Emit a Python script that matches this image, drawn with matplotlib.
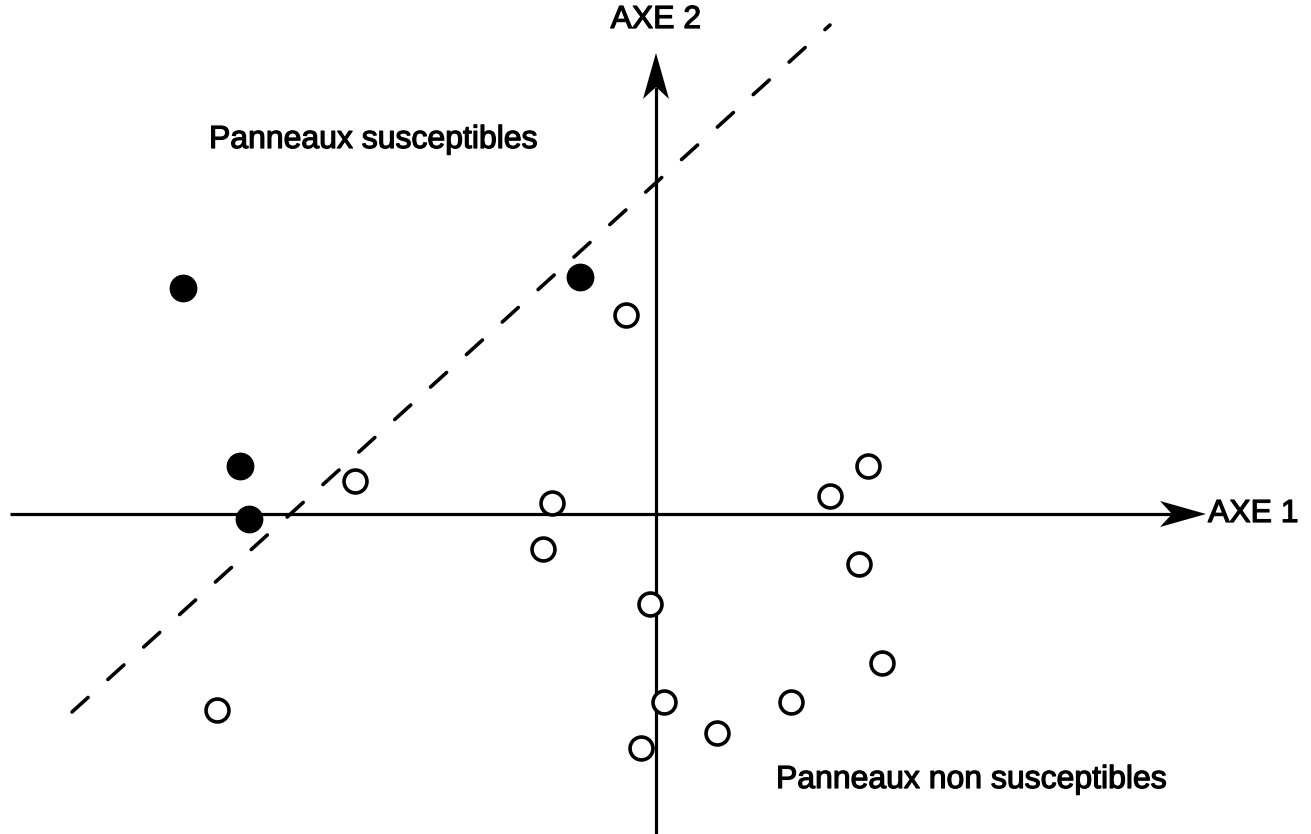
import matplotlib
matplotlib.use("Agg")
import matplotlib.pyplot as plt
import matplotlib.patheffects as pe

plt.rcParams['font.family'] = ['Liberation Sans', 'DejaVu Sans']

# Data (factor plane coordinates, origin at the axes crossing)
susc_x = [-473, -416, -407, -76]
susc_y = [226, 48, -5, 237]
non_x = [-301, -104, -113, -30, -6, 8, -15, 61, 135, 226, 203, 174, 212, -439]
non_y = [33, 11, -35, 199, -90, -188, -234, -219, -188, -149, -50, 18, 48, -196]
sep_x = [-584, 174]
sep_y = [-198, 489]

x_min, x_max = -646, 550
y_min, y_max = -320, 461

fig = plt.figure(figsize=(13.11, 8.34), dpi=100)
ax = fig.add_axes([0, 0, 1, 1])
ax.set_xlim(-656, 655)
ax.set_ylim(-320, 514)
ax.axis('off')

lw = 2.3
head_len, head_w, notch = 46, 13, 34

# axes lines
ax.plot([x_min, x_max - notch], [0, 0], color='black', lw=lw, solid_capstyle='butt', zorder=2)
ax.plot([0, 0], [y_min, y_max - notch], color='black', lw=lw, solid_capstyle='butt', zorder=2)
# barbed arrowheads
ax.fill([x_max, x_max - head_len, x_max - notch, x_max - head_len],
        [0, head_w, 0, -head_w], color='black', lw=0, zorder=2)
ax.fill([0, head_w, 0, -head_w],
        [y_max, y_max - head_len, y_max - notch, y_max - head_len], color='black', lw=0, zorder=2)

# separation line
ax.plot(sep_x, sep_y, color='black', lw=2.6, linestyle=(0, (6.0, 7.4)),
        dash_capstyle='round', zorder=2)

# points
ax.plot(non_x, non_y, linestyle='none', marker='o', markersize=16.5,
        markerfacecolor='white', markeredgecolor='black', markeredgewidth=2.6, zorder=3)
ax.plot(susc_x, susc_y, linestyle='none', marker='o', markersize=19,
        markerfacecolor='black', markeredgecolor='black', zorder=3)

# labels
fs = 23
fx = [pe.withStroke(linewidth=0.9, foreground='black')]
ax.text(0, 494, 'AXE 2', ha='center', va='center', fontsize=fs, path_effects=fx)
ax.text(x_max + 2, 0, 'AXE 1', ha='left', va='center', fontsize=fs, path_effects=fx)
ax.text(-447, 374, 'Panneaux susceptibles', ha='left', va='center', fontsize=fs, path_effects=fx)
ax.text(120, -266, 'Panneaux non susceptibles', ha='left', va='center', fontsize=fs, path_effects=fx)

fig.savefig('out.png', dpi=100, facecolor='white')
